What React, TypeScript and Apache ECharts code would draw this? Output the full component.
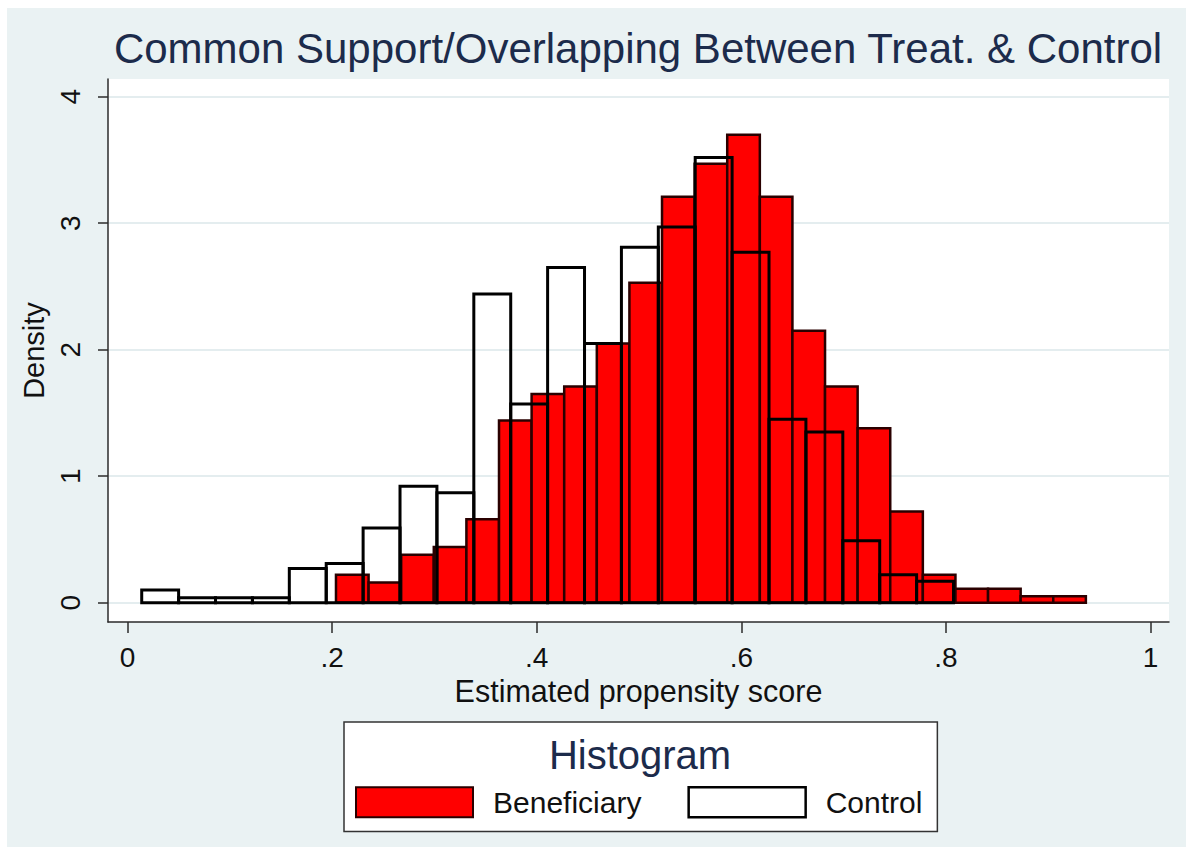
import React, { useEffect, useRef } from "react";
import * as echarts from "echarts";

const TITLE = "Common Support/Overlapping Between Treat. & Control";
const X_NAME = "Estimated propensity score";
const Y_NAME = "Density";
const LEGEND_TITLE = "Histogram";
const SERIES_NAMES = ["Beneficiary", "Control"];

const xTickValues = [0, 0.2, 0.4, 0.6, 0.8, 1];
const xTickLabels = ["0", ".2", ".4", ".6", ".8", "1"];
const yTickValues = [0, 1, 2, 3, 4];
const yTickLabels = ["0", "1", "2", "3", "4"];

// Beneficiary (treated) histogram: 23 bins
const beneficiaryStart = 0.2038;
const beneficiaryBinWidth = 0.03187;
const beneficiaryDensity = [
  0.22, 0.16, 0.38, 0.44, 0.66, 1.44, 1.65, 1.71, 2.05, 2.53, 3.21, 3.47,
  3.7, 3.21, 2.15, 1.71, 1.38, 0.72, 0.22, 0.11, 0.11, 0.05, 0.05,
];

// Control histogram: 22 bins
const controlStart = 0.0139;
const controlBinWidth = 0.03607;
const controlDensity = [
  0.1, 0.04, 0.04, 0.04, 0.27, 0.31, 0.59, 0.92, 0.87, 2.44, 1.57, 2.65, 2.05,
  2.81, 2.97, 3.52, 2.77, 1.45, 1.35, 0.49, 0.22, 0.17,
];

function toBins(start: number, width: number, dens: number[]) {
  return dens.map((d, i) => [start + i * width, start + (i + 1) * width, d]);
}

const FONT = "'Liberation Sans', Arial, sans-serif";
const NAVY = "#1c2b4b";

function makeRender(fill: string, stroke: string, lw: number) {
  return (params: any, api: any) => {
    const x0 = api.value(0);
    const x1 = api.value(1);
    const y = api.value(2);
    const p0 = api.coord([x0, y]);
    const p1 = api.coord([x1, 0]);
    return {
      type: "rect",
      shape: { x: p0[0], y: p0[1], width: p1[0] - p0[0], height: p1[1] - p0[1] },
      style: { fill, stroke, lineWidth: lw },
    };
  };
}

export default function App() {
  const ref = useRef<HTMLDivElement>(null);

  useEffect(() => {
    if (!ref.current) return;
    const chart = echarts.init(ref.current, null, { renderer: "svg" });
    const nearestLabel = (v: number, vals: number[], labels: string[]) => {
      let best = 0;
      for (let i = 1; i < vals.length; i++) {
        if (Math.abs(vals[i] - v) < Math.abs(vals[best] - v)) best = i;
      }
      return labels[best];
    };
    chart.setOption({
      animation: false,
      backgroundColor: "#eaf2f3",
      title: [
        {
          text: TITLE,
          left: 638,
          top: 27,
          padding: 0,
          textAlign: "center",
          textStyle: { fontFamily: FONT, fontSize: 42, fontWeight: "normal", color: NAVY },
        },
        {
          text: LEGEND_TITLE,
          left: 640,
          top: 735,
          padding: 0,
          textAlign: "center",
          z: 10,
          textStyle: { fontFamily: FONT, fontSize: 40, fontWeight: "normal", color: NAVY },
        },
      ],
      legend: {
        left: 344,
        top: 722,
        orient: "horizontal",
        padding: [64, 15, 13, 11],
        backgroundColor: "#ffffff",
        borderColor: "#333333",
        borderWidth: 1.5,
        borderRadius: 0,
        itemWidth: 117,
        itemHeight: 30,
        itemGap: 46,
        selectedMode: false,
        textStyle: { fontFamily: FONT, fontSize: 30, color: "#111", padding: [0, 0, 0, 15] },
        data: [
          {
            name: SERIES_NAMES[0],
            icon: "rect",
            itemStyle: { color: "#ff0000", borderColor: "#2a0000", borderWidth: 2 },
          },
          {
            name: SERIES_NAMES[1],
            icon: "rect",
            itemStyle: { color: "#ffffff", borderColor: "#000000", borderWidth: 2.5 },
          },
        ],
      },
      grid: {
        left: 108,
        top: 79,
        width: 1061,
        height: 543,
        show: true,
        backgroundColor: "#ffffff",
        borderWidth: 0,
        containLabel: false,
        outerBoundsMode: "none",
      },
      xAxis: {
        type: "value",
        min: -0.01906,
        max: 1.01808,
        name: X_NAME,
        nameLocation: "middle",
        nameGap: 51,
        nameTextStyle: { fontFamily: FONT, fontSize: 30.5, color: "#111" },
        axisLine: { show: true, onZero: false, lineStyle: { color: "#2b2b2b", width: 1.5 } },
        axisTick: {
          show: true,
          length: 11,
          customValues: xTickValues,
          lineStyle: { color: "#2b2b2b", width: 1.5 },
        },
        axisLabel: {
          customValues: xTickValues,
          margin: 21,
          fontFamily: FONT,
          fontSize: 28,
          color: "#111",
          formatter: (v: number) => nearestLabel(v, xTickValues, xTickLabels),
        },
        splitLine: { show: false },
      },
      yAxis: {
        type: "value",
        min: -0.1526,
        max: 4.14,
        name: Y_NAME,
        nameLocation: "middle",
        nameRotate: 90,
        nameGap: 52,
        nameTextStyle: { fontFamily: FONT, fontSize: 29, color: "#111" },
        axisLine: { show: true, onZero: false, lineStyle: { color: "#2b2b2b", width: 1.5 } },
        axisTick: {
          show: true,
          length: 10,
          customValues: yTickValues,
          lineStyle: { color: "#2b2b2b", width: 1.5 },
        },
        axisLabel: {
          customValues: yTickValues,
          rotate: 90,
          margin: 24,
          fontFamily: FONT,
          fontSize: 28,
          color: "#111",
          formatter: (v: number) => nearestLabel(v, yTickValues, yTickLabels),
        },
        splitLine: { show: true, lineStyle: { color: "#e4edef", width: 2 } },
      },
      series: [
        {
          name: SERIES_NAMES[0],
          type: "custom",
          renderItem: makeRender("#ff0000", "#2a0000", 2.5),
          encode: { x: [0, 1], y: 2 },
          data: toBins(beneficiaryStart, beneficiaryBinWidth, beneficiaryDensity),
          z: 2,
        },
        {
          name: SERIES_NAMES[1],
          type: "custom",
          renderItem: makeRender("none", "#000000", 3),
          encode: { x: [0, 1], y: 2 },
          data: toBins(controlStart, controlBinWidth, controlDensity),
          z: 3,
        },
      ],
    });
    return () => chart.dispose();
  }, []);

  return (
    <div style={{ position: "absolute", left: 0, top: 0, width: 1186, height: 847, background: "#fff" }}>
      <div ref={ref} style={{ position: "absolute", left: 0, top: 0, width: 1186, height: 847 }} />
      <div style={{ position: "absolute", left: 0, top: 0, width: 1186, height: 8, background: "#fff" }} />
      <div style={{ position: "absolute", left: 0, top: 0, width: 7, height: 847, background: "#fff" }} />
    </div>
  );
}
